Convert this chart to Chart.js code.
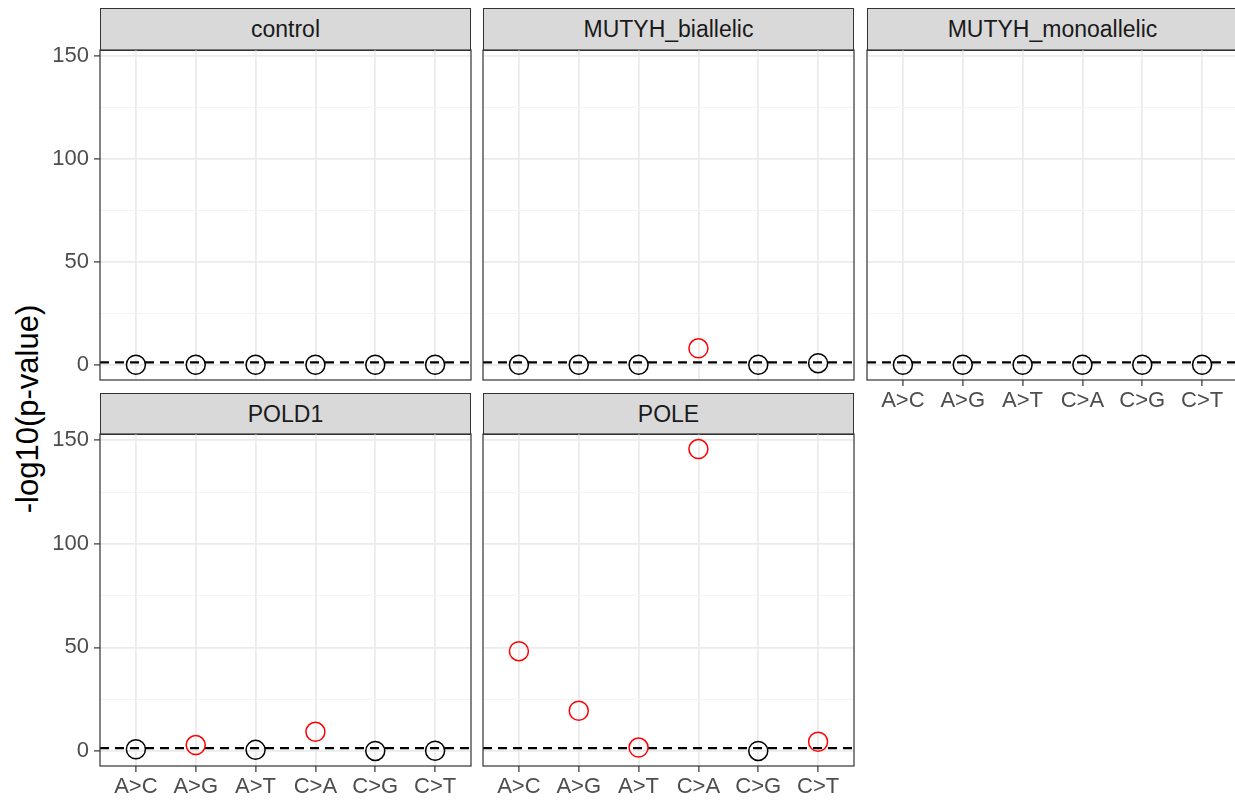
<!DOCTYPE html>
<html>
<head>
<meta charset="utf-8">
<script src="https://cdn.jsdelivr.net/npm/chart.js@4"></script>
<style>
  body { margin: 0; width: 1235px; height: 800px; overflow: hidden; background: #fff; position: relative;
         font-family: "Liberation Sans", Arial, sans-serif; }
  canvas { position: absolute; }
  .strip { position: absolute; box-sizing: border-box; background: #d9d9d9; border: 1px solid #333;
           display: flex; align-items: center; justify-content: center; font-size: 23px; color: #1a1a1a; }
  #ytitle { position: absolute; left: 28px; top: 409px; transform: translate(-50%, -50%) rotate(-90deg);
            font-size: 31px; color: #000; white-space: nowrap; }
</style>
</head>
<body>
<div id="ytitle">-log10(p-value)</div>
<script>
// mutation types on the x axis
let categories = ['A>C', 'A>G', 'A>T', 'C>A', 'C>G', 'C>T'];
let panelNames = ['control', 'MUTYH_biallelic', 'MUTYH_monoallelic', 'POLD1', 'POLE'];

// -log10(p-value) per group
let control = [0.1, 0.1, 0.1, 0.1, 0.1, 0.1];
let mutyhBiallelic = [0.1, 0.1, 0.1, 8.1, 0.1, 0.9];
let mutyhMonoallelic = [0.1, 0.1, 0.1, 0.1, 0.1, 0.1];
let pold1 = [0.8, 2.8, 0.5, 9.2, 0.0, 0.1];
let pole = [48.2, 19.4, 1.6, 145.8, 0.0, 4.4];

let yBreaks = [0, 50, 100, 150];
let threshold = -Math.log10(0.05);

let seriesByPanel = [control, mutyhBiallelic, mutyhMonoallelic, pold1, pole];

// shared y range, ggplot style 5% expansion
let all = seriesByPanel.flat().concat([threshold]);
let dMin = Math.min(...all), dMax = Math.max(...all);
let yMin = dMin - 0.05 * (dMax - dMin);
let yMax = dMax + 0.05 * (dMax - dMin);
let yGrid = [];
yBreaks.forEach((b, i) => {
  yGrid.push(b);
  if (i < yBreaks.length - 1) yGrid.push((b + yBreaks[i + 1]) / 2);
});

Chart.defaults.font.family = '"Liberation Sans", Arial, sans-serif';

// panel geometry (facet grid layout)
let cols = [{ l: 100, w: 371 }, { l: 483, w: 371 }, { l: 867, w: 371 }];
let rows = [{ strip: 8, top: 50, bottom: 380 }, { strip: 393, top: 434, bottom: 766 }];
let cells = [[0, 0], [0, 1], [0, 2], [1, 0], [1, 1]];

let panelDeco = {
  id: 'panelDeco',
  beforeDatasetsDraw(chart) {
    let { ctx, chartArea: a, scales: { y } } = chart;
    let py = y.getPixelForValue(threshold);
    ctx.save();
    ctx.beginPath();
    ctx.rect(a.left, a.top, a.width, a.height);
    ctx.clip();
    ctx.setLineDash([9, 6]);
    ctx.lineWidth = 2.2;
    ctx.strokeStyle = '#000';
    ctx.beginPath();
    ctx.moveTo(a.left, py);
    ctx.lineTo(a.right, py);
    ctx.stroke();
    ctx.restore();
  },
  afterDraw(chart) {
    let { ctx, chartArea: a } = chart;
    ctx.save();
    ctx.strokeStyle = '#333';
    ctx.lineWidth = 1.2;
    ctx.strokeRect(a.left, a.top, a.width, a.height);
    ctx.restore();
  }
};

panelNames.forEach((name, p) => {
  let [r, c] = cells[p];
  let row = rows[r], col = cols[c];
  let showY = c === 0;
  let showX = r === 1 || (r === 0 && c === 2);
  let pad = 30;
  let yW = showY ? 60 : 0;
  let xH = showX ? 40 : 0;
  let ph = row.bottom - row.top;

  let strip = document.createElement('div');
  strip.className = 'strip';
  strip.textContent = name;
  strip.style.left = col.l + 'px';
  strip.style.top = row.strip + 'px';
  strip.style.width = col.w + 'px';
  strip.style.height = (row.top - row.strip + 1) + 'px';
  document.body.appendChild(strip);

  let canvas = document.createElement('canvas');
  canvas.width = pad + yW + col.w + pad;
  canvas.height = pad + ph + xH + pad;
  canvas.style.left = (col.l - pad - yW) + 'px';
  canvas.style.top = (row.top - pad) + 'px';
  document.body.appendChild(canvas);

  let vals = seriesByPanel[p];
  let isMajor = (ctx) => ctx.tick && yBreaks.includes(ctx.tick.value);

  new Chart(canvas.getContext('2d'), {
    type: 'scatter',
    data: {
      datasets: [{
        data: categories.map((cat, i) => ({ x: i, y: vals[i] })),
        pointRadius: 9.5,
        pointHoverRadius: 9.5,
        pointBorderWidth: 1.5,
        pointBackgroundColor: 'rgba(0,0,0,0)',
        pointBorderColor: (ctx) => (ctx.raw && ctx.raw.y > threshold) ? '#ff0000' : '#000000'
      }]
    },
    options: {
      responsive: false,
      animation: false,
      layout: { padding: pad },
      plugins: { legend: { display: false }, tooltip: { enabled: false } },
      scales: {
        x: {
          type: 'linear',
          min: -0.6,
          max: categories.length - 0.4,
          afterBuildTicks: (s) => { s.ticks = categories.map((cat, i) => ({ value: i })); },
          afterFit: (s) => { s.height = xH; },
          border: { display: false },
          grid: { color: '#ebebeb', lineWidth: 1.8, drawTicks: showX, tickLength: 6, tickColor: '#333', tickWidth: 1.2 },
          ticks: {
            display: showX, autoSkip: false, maxRotation: 0, padding: 2,
            color: '#4d4d4d', font: { size: 22 },
            callback: (v) => categories[v]
          }
        },
        y: {
          type: 'linear',
          min: yMin,
          max: yMax,
          afterBuildTicks: (s) => { s.ticks = yGrid.map((v) => ({ value: v })); },
          afterFit: (s) => { s.width = yW; },
          border: { display: false },
          grid: {
            color: (ctx) => isMajor(ctx) ? '#ebebeb' : '#f3f3f3',
            lineWidth: (ctx) => isMajor(ctx) ? 1.8 : 0.9,
            drawTicks: showY,
            tickLength: 6,
            tickColor: (ctx) => isMajor(ctx) ? '#333' : 'rgba(0,0,0,0)',
            tickWidth: 1.2
          },
          ticks: {
            display: showY, padding: 5, color: '#4d4d4d', font: { size: 22 },
            callback: (v) => yBreaks.includes(v) ? v : ''
          }
        }
      }
    },
    plugins: [panelDeco]
  });
});
</script>
</body>
</html>
